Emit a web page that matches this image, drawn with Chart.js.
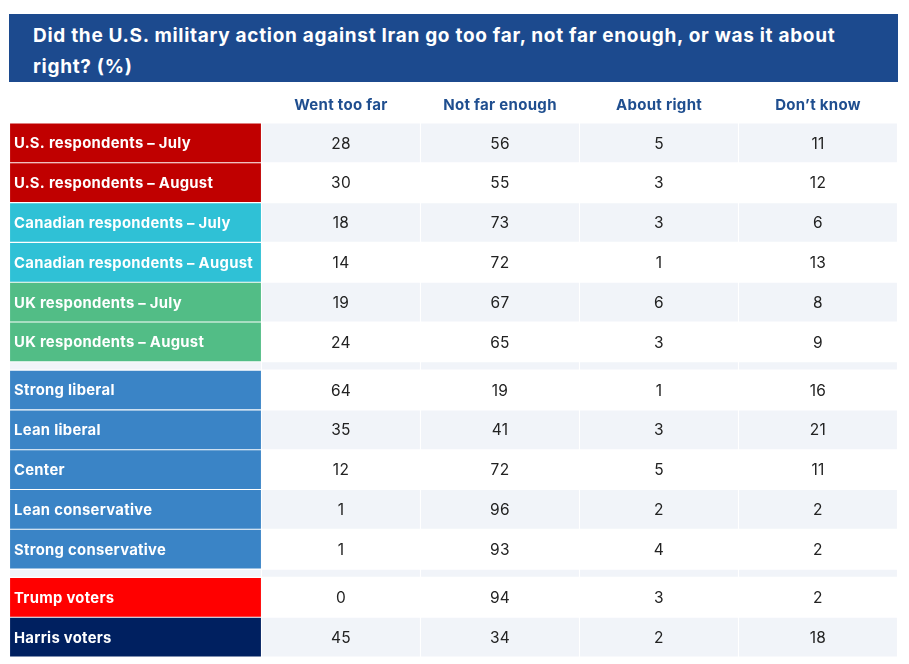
<!DOCTYPE html>
<html>
<head>
<meta charset="UTF-8">
<title>Iran military action poll</title>
<script src="https://cdn.jsdelivr.net/npm/chart.js"></script>
<style>
  body { margin: 0; background: #fff; }
  #wrap { position: relative; width: 909px; height: 664px; }
  #title {
    position: absolute; left: 9px; top: 14px; width: 865px; height: 62px;
    padding: 6px 0 0 24px; background: #1c4a8e; color: #fff;
    font: 700 19px/31px Inter, sans-serif; letter-spacing: 0.7px; z-index: 2;
  }
  #chartBox { position: absolute; left: 0; top: 0; width: 909px; height: 664px; }
</style>
</head>
<body>
<div id="wrap">
  <div id="title">Did the U.S. military action against Iran go too far, not far enough, or was it about<br>right? (%)</div>
  <div id="chartBox"><canvas id="myChart"></canvas></div>
</div>
<script>
  const groups = ['U.S. respondents – July', 'U.S. respondents – August',
    'Canadian respondents – July', 'Canadian respondents – August',
    'UK respondents – July', 'UK respondents – August',
    'Strong liberal', 'Lean liberal', 'Center', 'Lean conservative', 'Strong conservative',
    'Trump voters', 'Harris voters'];
  const answers = ['Went too far', 'Not far enough', 'About right', 'Don’t know'];
  const wentTooFar   = [28, 30, 18, 14, 19, 24, 64, 35, 12, 1, 1, 0, 45];
  const notFarEnough = [56, 55, 73, 72, 67, 65, 19, 41, 72, 96, 93, 94, 34];
  const aboutRight   = [5, 3, 3, 1, 6, 3, 1, 3, 5, 2, 4, 3, 2];
  const dontKnow     = [11, 12, 6, 13, 8, 9, 16, 21, 11, 2, 2, 2, 18];
  // blocks of groups end after these rows (thin spacer row follows)
  const blockEnds = [5, 10];

  const groupColors = ['#c00000', '#c00000', '#2fc1d6', '#2fc1d6', '#52bd86', '#52bd86',
    '#3a84c6', '#3a84c6', '#3a84c6', '#3a84c6', '#3a84c6', '#ff0000', '#002060'];
  const stripeColors = ['#f1f4f9', '#ffffff'];

  // layout in table units (roughly pixels)
  const ROW = 39.8, SPACER = 8.3, GAP = 1.8;
  const colWidths = [252, 159, 159, 159, 159];
  const colEdges = [0];
  colWidths.forEach(w => colEdges.push(colEdges[colEdges.length - 1] + w));
  const values = [wentTooFar, notFarEnough, aboutRight, dontKnow];

  const rowCells = [], rowBg = [], spacerCells = [], spacerBg = [], rowCenters = [];
  let yPos = 0, stripe = 0;
  groups.forEach((g, r) => {
    const yc = yPos + ROW / 2;
    rowCenters.push(yc);
    const fill = stripeColors[stripe % 2];
    for (let c = 0; c < colWidths.length; c++) {
      rowCells.push({ x: [colEdges[c] + GAP / 2, colEdges[c + 1] - GAP / 2], y: yc, v: c === 0 ? '' : values[c - 1][r] });
      rowBg.push(c === 0 ? groupColors[r] : fill);
    }
    yPos += ROW;
    stripe++;
    if (blockEnds.includes(r)) {
      const ys = yPos + SPACER / 2;
      for (let c = 0; c < colWidths.length; c++) {
        spacerCells.push({ x: [colEdges[c] + GAP / 2, colEdges[c + 1] - GAP / 2], y: ys });
        spacerBg.push(stripeColors[stripe % 2]);
      }
      yPos += SPACER;
      stripe++;
    }
  });
  const totalHeight = yPos;
  const colCenters = answers.map((a, i) => (colEdges[i + 1] + colEdges[i + 2]) / 2);

  // slightly wider text, closer to the original rounded font
  const spacing = {
    id: 'spacing',
    beforeDraw(chart) { chart.ctx.letterSpacing = '0.3px'; }
  };

  // numbers inside the answer cells
  const cellText = {
    id: 'cellText',
    afterDatasetsDraw(chart) {
      const ctx = chart.ctx;
      const meta = chart.getDatasetMeta(0);
      const data = chart.data.datasets[0].data;
      ctx.save();
      ctx.font = '400 15.5px Inter, sans-serif';
      ctx.fillStyle = '#222222';
      ctx.textAlign = 'center';
      ctx.textBaseline = 'middle';
      meta.data.forEach((bar, i) => {
        if (data[i].v === '') return;
        const p = bar.getProps(['x', 'y', 'base'], true);
        ctx.fillText(String(data[i].v), (p.x + p.base) / 2, p.y + 1);
      });
      ctx.restore();
    }
  };

  const ctx = document.getElementById('myChart').getContext('2d');
  const chart = new Chart(ctx, {
    type: 'bar',
    data: {
      datasets: [{
        data: rowCells,
        backgroundColor: rowBg,
        barThickness: ROW - GAP,
        grouped: false
      }, {
        data: spacerCells,
        backgroundColor: spacerBg,
        barThickness: SPACER - GAP,
        grouped: false
      }]
    },
    options: {
      indexAxis: 'y',
      responsive: true,
      maintainAspectRatio: false,
      animation: false,
      layout: { padding: { top: 86, left: 9.5, right: 11.5, bottom: 7 } },
      plugins: { legend: { display: false }, tooltip: { enabled: false } },
      scales: {
        x: {
          type: 'linear',
          position: 'top',
          min: 0,
          max: colEdges[colEdges.length - 1],
          offset: false,
          grid: { display: false, drawTicks: false },
          border: { display: false },
          afterBuildTicks: s => { s.ticks = colCenters.map(v => ({ value: v })); },
          afterFit: s => { s.height = 37; s.paddingLeft = 0; s.paddingRight = 0; },
          ticks: {
            autoSkip: false,
            maxRotation: 0,
            padding: 9,
            color: '#1f4e8f',
            font: { family: 'Inter', size: 15, weight: '700' },
            callback: (v, i) => answers[i]
          }
        },
        y: {
          type: 'linear',
          reverse: true,
          min: 0,
          max: totalHeight,
          offset: false,
          grid: { display: false, drawTicks: false },
          border: { display: false },
          afterBuildTicks: s => { s.ticks = rowCenters.map(v => ({ value: v })); },
          afterFit: s => { s.width = 0; s.paddingTop = 0; s.paddingBottom = 0; },
          ticks: {
            z: 1,
            mirror: true,
            autoSkip: false,
            padding: 4.5,
            labelOffset: 1,
            color: '#ffffff',
            font: { family: 'Inter', size: 14.8, weight: '700' },
            callback: (v, i) => groups[i]
          }
        }
      }
    },
    plugins: [spacing, cellText]
  });
</script>
</body>
</html>
